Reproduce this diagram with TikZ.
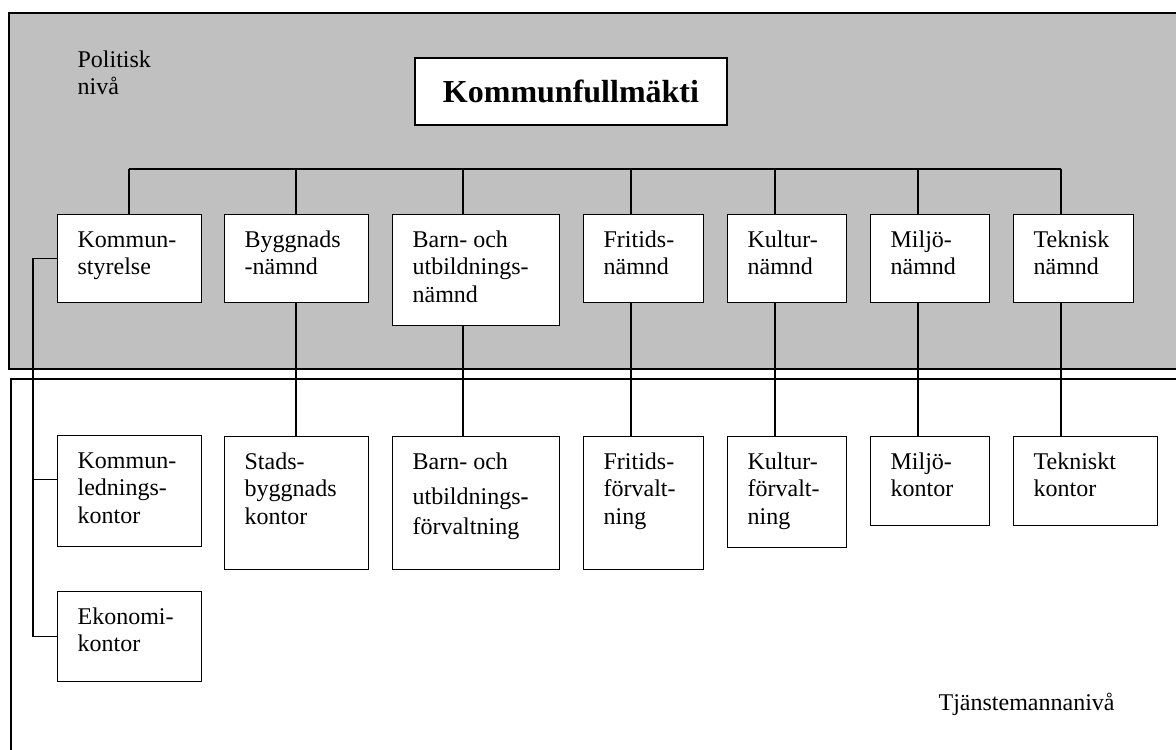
\documentclass[tikz,border=0pt]{standalone}
\usepackage{fontspec}
\setmainfont{Liberation Serif}
\definecolor{nivagray}{RGB}{192,192,192}
\tikzset{
  box/.style={draw, fill=white, anchor=north west, inner sep=0pt},
  boxtext/.style={anchor=north west, inner sep=0pt, align=left,
    font=\fontsize{12}{13.6}\selectfont},
}
\begin{document}
\begin{tikzpicture}[x=0.5pt, y=-0.5pt, line width=0.6pt]
        \useasboundingbox (0,0) rectangle (1176,749);

        % the two levels
        \fill[nivagray] (9,13) rectangle (1200,369);
        \draw (1200,13) -- (9,13) -- (9,369) -- (1200,369);
        \draw (1200,379) -- (11,379) -- (11,760);

        \node[boxtext] (pol) at (77,48) {\strut Politisk\\nivå};
        \node[boxtext, anchor=base west] (tjm) at (938,710) {Tjänstemannanivå};

        \node[draw, fill=white, minimum width=156pt, minimum height=33.5pt,
              font=\bfseries\fontsize{16}{19}\selectfont] (kfm) at (571,91.5) {Kommunfullmäkti};

        % nämnder
        \node[box, minimum width=72pt,   minimum height=44pt]   (ks)   at (57,214)   {};
        \node[box, minimum width=72pt,   minimum height=44pt]   (bygg) at (224,214)  {};
        \node[box, minimum width=83.5pt, minimum height=55.5pt] (barn) at (392,214)  {};
        \node[box, minimum width=60pt,   minimum height=44pt]   (frit) at (583,214)  {};
        \node[box, minimum width=59.5pt, minimum height=44pt]   (kult) at (727,214)  {};
        \node[box, minimum width=59.5pt, minimum height=44pt]   (milj) at (870,214)  {};
        \node[box, minimum width=60pt,   minimum height=44pt]   (tekn) at (1013,214) {};

        \node[boxtext] (ks-t)   at ([xshift=10pt,yshift=-7pt]ks.north west)   {\strut Kommun-\\styrelse};
        \node[boxtext] (bygg-t) at ([xshift=10pt,yshift=-7pt]bygg.north west) {\strut Byggnads\\-nämnd};
        \node[boxtext] (barn-t) at ([xshift=10pt,yshift=-7pt]barn.north west) {\strut Barn- och\\utbildnings-\\nämnd};
        \node[boxtext] (frit-t) at ([xshift=10pt,yshift=-7pt]frit.north west) {\strut Fritids-\\nämnd};
        \node[boxtext] (kult-t) at ([xshift=10pt,yshift=-7pt]kult.north west) {\strut Kultur-\\nämnd};
        \node[boxtext] (milj-t) at ([xshift=10pt,yshift=-7pt]milj.north west) {\strut Miljö-\\nämnd};
        \node[boxtext] (tekn-t) at ([xshift=10pt,yshift=-7pt]tekn.north west) {\strut Teknisk\\nämnd};

        % förvaltningar
        \node[box, minimum width=72pt,   minimum height=55.5pt] (kled)  at (57,435)   {};
        \node[box, minimum width=72pt,   minimum height=45pt]   (ekon)  at (57,591)   {};
        \node[box, minimum width=72pt,   minimum height=66.5pt] (stads) at (224,436)  {};
        \node[box, minimum width=83.5pt, minimum height=66.5pt] (barnf) at (392,436)  {};
        \node[box, minimum width=60pt,   minimum height=66.5pt] (fritf) at (583,436)  {};
        \node[box, minimum width=59.5pt, minimum height=55.5pt] (kultf) at (727,436)  {};
        \node[box, minimum width=59.5pt, minimum height=44.5pt] (miljk) at (870,436)  {};
        \node[box, minimum width=72pt,   minimum height=44.5pt] (teknk) at (1013,436) {};

        \node[boxtext] (kled-t)  at ([xshift=10pt,yshift=-7pt]kled.north west)  {\strut Kommun-\\lednings-\\kontor};
        \node[boxtext] (ekon-t)  at ([xshift=10pt,yshift=-7pt]ekon.north west)  {\strut Ekonomi-\\kontor};
        \node[boxtext] (stads-t) at ([xshift=10pt,yshift=-7pt]stads.north west) {\strut Stads-\\byggnads\\kontor};
        \node[boxtext] (barnf-t) at ([xshift=10pt,yshift=-7pt]barnf.north west) {\strut Barn- och\\[4pt]utbildnings\textbf{-}\\[1pt]förvaltning};
        \node[boxtext] (fritf-t) at ([xshift=10pt,yshift=-7pt]fritf.north west) {\strut Fritids-\\förvalt-\\ning};
        \node[boxtext] (kultf-t) at ([xshift=10pt,yshift=-7pt]kultf.north west) {\strut Kultur-\\förvalt-\\ning};
        \node[boxtext] (miljk-t) at ([xshift=10pt,yshift=-7pt]miljk.north west) {\strut Miljö-\\kontor};
        \node[boxtext] (teknk-t) at ([xshift=10pt,yshift=-7pt]teknk.north west) {\strut Tekniskt\\kontor};

        % lines
        \coordinate (b1) at (129,169);
        \coordinate (b2) at (296,169);
        \coordinate (b3) at (463,169);
        \coordinate (b4) at (631,169);
        \coordinate (b5) at (775,169);
        \coordinate (b6) at (918,169);
        \coordinate (b7) at (1061,169);
        \draw (b1) -- (b7);

        \draw (b1) -- (b1 |- ks.north);
        \draw (b2) -- (b2 |- bygg.north);
        \draw (b3) -- (b3 |- barn.north);
        \draw (b4) -- (b4 |- frit.north);
        \draw (b5) -- (b5 |- kult.north);
        \draw (b6) -- (b6 |- milj.north);
        \draw (b7) -- (b7 |- tekn.north);

        \draw (b2 |- bygg.south) -- (b2 |- stads.north);
        \draw (b3 |- barn.south) -- (b3 |- barnf.north);
        \draw (b4 |- frit.south) -- (b4 |- fritf.north);
        \draw (b5 |- kult.south) -- (b5 |- kultf.north);
        \draw (b6 |- milj.south) -- (b6 |- miljk.north);
        \draw (b7 |- tekn.south) -- (b7 |- teknk.north);

        \coordinate (vl) at (33,258);
        \coordinate (kled-in) at ([yshift=6pt]kled.west);
        \draw (ks.west) -- (ks.west -| vl) |- (ekon.west);
        \draw (kled-in -| vl) -- (kled-in);
    \end{tikzpicture}
\end{document}
